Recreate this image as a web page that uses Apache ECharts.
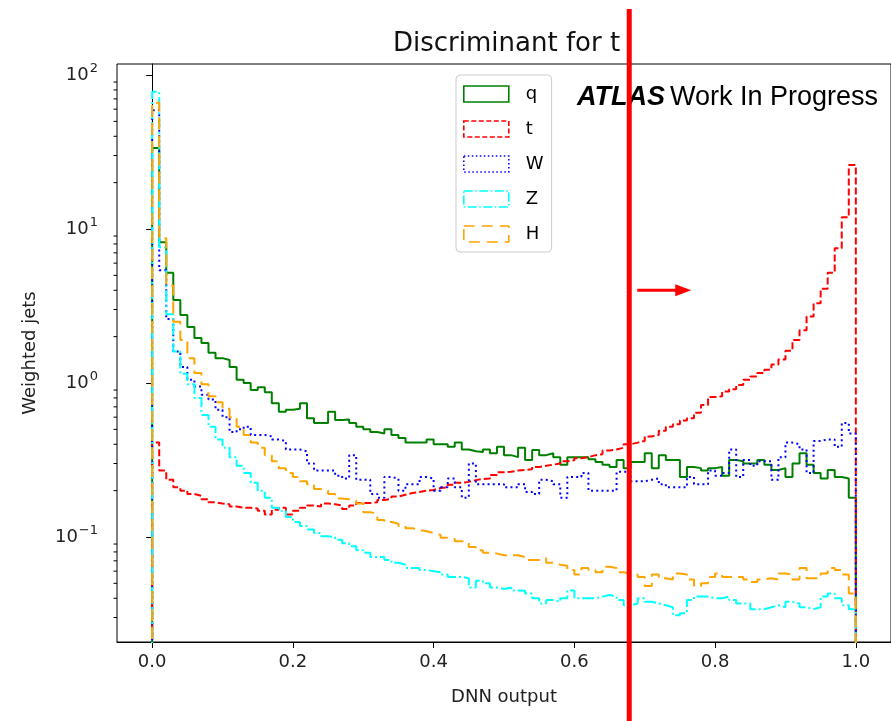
<!DOCTYPE html>
<html><head><meta charset="utf-8">
<script src="https://cdn.jsdelivr.net/npm/echarts@6/dist/echarts.min.js"></script>
<style>html,body{margin:0;padding:0;background:#fff}#c{width:891px;height:721px}</style>
</head><body><div id="c"></div>
<script>
// ---- data (100 bins of width 0.01 on [0,1]) ----
const binWidth = 0.01;
const seriesNames = ['q', 't', 'W', 'Z', 'H'];
const qVals = [33.6,8.2,5.2,3.46,2.76,2.31,1.96,1.82,1.57,1.45,
1.41,1.27,1.05,1.0,0.90,0.94,0.87,0.74,0.65,0.67,
0.68,0.74,0.59,0.55,0.55,0.65,0.575,0.58,0.55,0.52,
0.50,0.48,0.47,0.50,0.46,0.44,0.41,0.41,0.41,0.43,
0.40,0.40,0.385,0.41,0.37,0.36,0.357,0.37,0.35,0.385,
0.34,0.33,0.38,0.316,0.367,0.34,0.35,0.33,0.294,0.33,
0.33,0.33,0.32,0.307,0.294,0.285,0.316,0.28,0.307,0.307,
0.35,0.28,0.34,0.316,0.316,0.245,0.285,0.28,0.27,0.28,
0.285,0.25,0.316,0.31,0.30,0.30,0.316,0.294,0.272,0.28,
0.245,0.30,0.35,0.294,0.26,0.24,0.272,0.245,0.24,0.18];
const tVals = [0.41,0.27,0.235,0.21,0.20,0.19,0.185,0.176,0.168,0.165,
0.163,0.158,0.155,0.155,0.153,0.148,0.14,0.15,0.155,0.14,
0.148,0.155,0.16,0.158,0.165,0.163,0.16,0.152,0.16,0.166,
0.166,0.168,0.174,0.177,0.183,0.188,0.193,0.196,0.20,0.202,
0.208,0.21,0.218,0.225,0.228,0.234,0.238,0.24,0.253,0.263,
0.265,0.27,0.272,0.275,0.285,0.29,0.295,0.30,0.31,0.315,
0.325,0.33,0.34,0.345,0.365,0.37,0.38,0.40,0.41,0.42,
0.45,0.46,0.49,0.52,0.54,0.57,0.59,0.64,0.72,0.81,
0.82,0.88,0.91,0.97,1.05,1.1,1.16,1.22,1.32,1.42,
1.62,1.9,2.2,2.7,3.3,4.1,5.2,7.5,11.9,26];
const wVals = [59,5.4,2.6,1.6,1.27,1.05,0.95,0.84,0.78,0.67,
0.6,0.48,0.5,0.52,0.46,0.46,0.45,0.43,0.42,0.37,
0.37,0.36,0.3,0.27,0.27,0.27,0.25,0.24,0.34,0.235,
0.235,0.19,0.18,0.245,0.24,0.2,0.22,0.22,0.245,0.24,
0.2,0.21,0.24,0.21,0.18,0.3,0.22,0.22,0.22,0.22,
0.21,0.21,0.22,0.196,0.19,0.235,0.23,0.22,0.18,0.245,
0.245,0.26,0.2,0.2,0.2,0.2,0.265,0.265,0.23,0.23,
0.235,0.24,0.22,0.21,0.21,0.21,0.245,0.22,0.22,0.27,
0.25,0.26,0.37,0.245,0.316,0.29,0.31,0.31,0.235,0.33,
0.41,0.4,0.37,0.26,0.42,0.43,0.43,0.385,0.55,0.47];
const zVals = [78,7.6,2.8,1.6,1.15,0.98,0.8,0.62,0.52,0.43,
0.38,0.33,0.29,0.26,0.225,0.2,0.18,0.155,0.148,0.135,
0.125,0.118,0.112,0.106,0.101,0.1,0.096,0.091,0.087,0.082,
0.079,0.074,0.074,0.071,0.068,0.066,0.063,0.063,0.061,0.06,
0.059,0.057,0.055,0.055,0.054,0.047,0.052,0.05,0.047,0.046,
0.047,0.045,0.0447,0.043,0.040,0.037,0.039,0.038,0.040,0.045,
0.040,0.040,0.040,0.041,0.042,0.041,0.039,0.036,0.037,0.040,
0.038,0.037,0.036,0.035,0.031,0.032,0.039,0.041,0.041,0.040,
0.040,0.041,0.039,0.037,0.037,0.034,0.034,0.035,0.036,0.035,
0.038,0.037,0.035,0.034,0.035,0.041,0.043,0.040,0.036,0.034];
const hVals = [66,8.7,4.3,2.5,1.9,1.45,1.16,0.98,0.82,0.75,
0.68,0.6,0.52,0.46,0.41,0.38,0.34,0.31,0.28,0.26,
0.245,0.23,0.22,0.205,0.2,0.19,0.178,0.176,0.172,0.165,
0.145,0.141,0.129,0.125,0.122,0.118,0.114,0.111,0.109,0.106,
0.103,0.099,0.097,0.094,0.092,0.086,0.082,0.079,0.078,0.076,
0.076,0.076,0.074,0.071,0.071,0.073,0.068,0.066,0.065,0.061,
0.057,0.063,0.061,0.059,0.064,0.063,0.059,0.058,0.057,0.055,
0.048,0.057,0.054,0.053,0.058,0.057,0.053,0.048,0.050,0.055,
0.058,0.055,0.055,0.055,0.053,0.051,0.053,0.054,0.053,0.058,
0.057,0.053,0.063,0.054,0.054,0.058,0.063,0.061,0.057,0.043];
const xTickValues = [0, 0.2, 0.4, 0.6, 0.8, 1.0];
const yMajorTicks = [0.1, 1, 10, 100];
const yMinorTicks = [0.03,0.04,0.05,0.06,0.07,0.08,0.09,0.2,0.3,0.4,0.5,0.6,0.7,0.8,0.9,
                     2,3,4,5,6,7,8,9,20,30,40,50,60,70,80,90];

// ---- styling ----
const X_MIN = -0.05, X_MAX = 1.05, Y_MIN = 0.0208, Y_MAX = 117.9, FLOOR = 1e-4;
const colors = ['#008000', '#ff0000', '#0000ff', '#00ffff', '#ffa500'];
const dashes = ['solid', [7, 3], [2, 3.2], [12, 3, 2, 3], [12, 6]];
const legendDashes = ['solid', [5, 2.5], [1.5, 2.5], [9, 2.5, 1.5, 2.5], [11, 7]];
const allVals = [qVals, tVals, wVals, zVals, hVals];
const FONT = 'DejaVu Sans';

function stepData(vals) {
  const pts = [[0, FLOOR]];
  vals.forEach((v, i) => pts.push([i * binWidth, v]));
  pts.push([vals.length * binWidth, vals[vals.length - 1]]);
  pts.push([vals.length * binWidth, FLOOR]);
  return pts;
}

const chart = echarts.init(document.getElementById('c'), null, {renderer: 'canvas'});

const series = seriesNames.map((n, i) => ({
  name: n, type: 'line', step: 'end', data: stepData(allVals[i]),
  showSymbol: false, symbol: 'none', clip: true, animation: false,
  lineStyle: {color: colors[i], width: 2, type: dashes[i]},
  itemStyle: {color: colors[i]}, z: 2 + i
}));
series.push({
  type: 'custom', name: 'minorTicks', silent: true, clip: false, animation: false,
  data: yMinorTicks.map(v => [X_MIN, v]),
  renderItem: (params, api) => {
    const p = api.coord([api.value(0), api.value(1)]);
    return {type: 'line', shape: {x1: p[0] - 3.5, y1: p[1], x2: p[0], y2: p[1]},
            style: {stroke: '#000', lineWidth: 1}};
  }, z: 20
});

const supText = e => (e < 0 ? '\u2212' + (-e) : '' + e);

chart.setOption({
  animation: false,
  backgroundColor: '#fff',
  title: [
    {text: 'Discriminant for t', left: 388, top: 26,
     textStyle: {fontFamily: FONT, fontSize: 26, fontWeight: 'normal', color: '#111'}},
    {text: '{a|ATLAS} {b|Work In Progress}', left: 572, top: 79,
     textStyle: {fontWeight: 'normal', rich: {
       a: {fontFamily: 'Liberation Sans', fontWeight: 'bold', fontStyle: 'italic', fontSize: 27, color: '#000'},
       b: {fontFamily: 'Liberation Sans', fontWeight: 'normal', fontSize: 27, color: '#000'}}}}
  ],
  grid: {left: 117, top: 64, right: -2, bottom: 79, show: true, borderColor: '#000', borderWidth: 1,
         backgroundColor: 'transparent'},
  legend: {
    orient: 'vertical', left: 456, top: 75, padding: [10, 8, 9, 7],
    itemWidth: 45, itemHeight: 16, itemGap: 17, icon: 'rect',
    borderColor: '#cccccc', borderWidth: 1, borderRadius: 4, backgroundColor: 'rgba(255,255,255,0.8)',
    textStyle: {fontFamily: FONT, fontSize: 18, color: '#000', padding: [0, 0, 0, 12]},
    selectedMode: false,
    data: seriesNames.map((n, i) => ({name: n, itemStyle: {
      color: 'rgba(255,255,255,0)', borderColor: colors[i], borderWidth: 1.6, borderType: legendDashes[i]}}))
  },
  xAxis: {
    type: 'value', min: X_MIN, max: X_MAX,
    axisLine: {show: true, lineStyle: {color: '#000', width: 1}},
    axisTick: {show: true, length: 6, customValues: xTickValues, lineStyle: {color: '#000'}},
    axisLabel: {customValues: xTickValues, formatter: v => Number(v).toFixed(1), margin: 11,
                fontFamily: FONT, fontSize: 18, color: '#222'},
    splitLine: {show: false},
    name: 'DNN output', nameLocation: 'middle', nameGap: 46,
    nameTextStyle: {fontFamily: FONT, fontSize: 18, color: '#222'}
  },
  yAxis: {
    type: 'log', logBase: 10, min: Y_MIN, max: Y_MAX,
    axisLine: {show: true, lineStyle: {color: '#000', width: 1}},
    axisTick: {show: true, length: 6, customValues: yMajorTicks, lineStyle: {color: '#000'}},
    axisLabel: {customValues: yMajorTicks, margin: 19,
      formatter: v => '{b|10}{s|' + supText(Math.round(Math.log10(v))) + '}',
      rich: {b: {fontFamily: FONT, fontSize: 18, color: '#222'},
             s: {fontFamily: FONT, fontSize: 13, color: '#222', padding: [0, 0, 12, 1]}}},
    splitLine: {show: false}, minorTick: {show: false},
    name: 'Weighted jets', nameLocation: 'middle', nameGap: 78,
    nameTextStyle: {fontFamily: FONT, fontSize: 18, color: '#222'}
  },
  series: series
});

// red annotation overlay (vertical cut line with arrow)
const MARK_X = 0.678, ARROW_Y = 4.0;
const rx = chart.convertToPixel({xAxisIndex: 0}, MARK_X);
const ay = chart.convertToPixel({yAxisIndex: 0}, ARROW_Y);
chart.setOption({graphic: [
  {type: 'line', z: 100, shape: {x1: rx, y1: 9, x2: rx, y2: 721}, style: {stroke: '#ff0000', lineWidth: 5}},
  {type: 'line', z: 100, shape: {x1: rx + 8, y1: ay, x2: rx + 50, y2: ay}, style: {stroke: '#ff0000', lineWidth: 3}},
  {type: 'polygon', z: 100, shape: {points: [[rx + 46, ay - 6], [rx + 62, ay], [rx + 46, ay + 6]]},
   style: {fill: '#ff0000'}}
]});
</script>
</body></html>
